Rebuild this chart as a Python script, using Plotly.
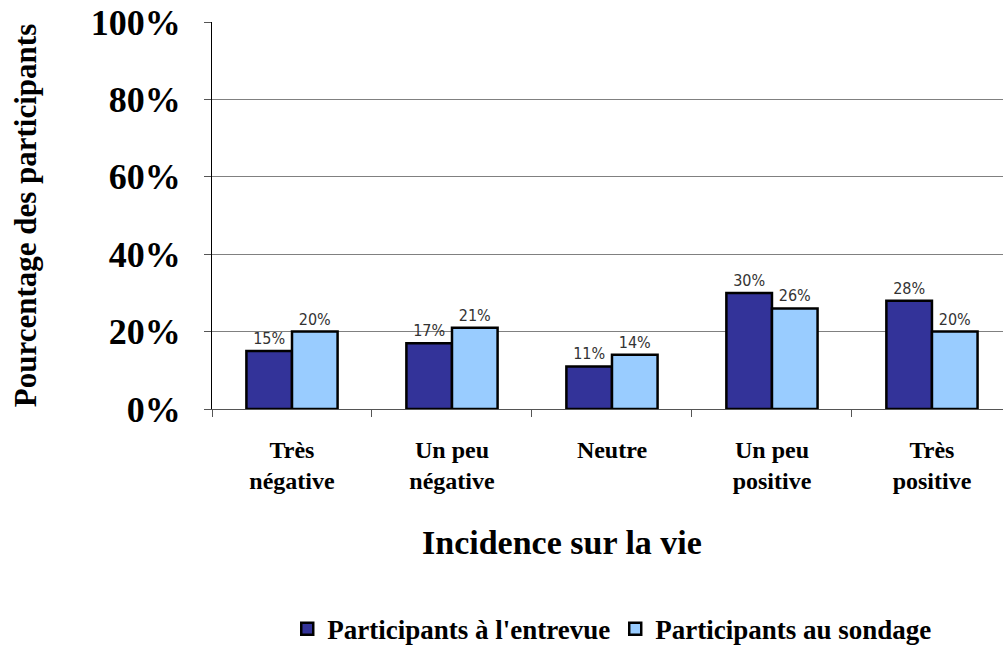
import plotly.graph_objects as go

categories = ["Très<br>négative", "Un peu<br>négative", "Neutre", "Un peu<br>positive", "Très<br>positive"]
entrevue = [0.15, 0.17, 0.11, 0.30, 0.28]
sondage = [0.20, 0.21, 0.14, 0.26, 0.20]
series_names = ["Participants à l'entrevue", "Participants au sondage"]
colors = ["#333399", "#99CCFF"]
x_title = "Incidence sur la vie"
y_title = "Pourcentage des participants"

serif = "Liberation Serif"
fig = go.Figure()
for name, vals, col in zip(series_names, [entrevue, sondage], colors):
    fig.add_trace(go.Bar(
        x=categories, y=vals, name=name,
        marker=dict(color=col, line=dict(color="black", width=2.5)),
        text=[f"{v:.0%}" for v in vals], textposition="outside",
        textfont=dict(family="DejaVu Sans Condensed, Liberation Sans", size=16, color="#333"),
        cliponaxis=False,
    ))

fig.update_layout(
    width=1003, height=649,
    margin=dict(l=212, r=0, t=22, b=240, autoexpand=False),
    plot_bgcolor="white", paper_bgcolor="white",
    barmode="group", bargap=0.43, bargroupgap=0,
    showlegend=True,
    legend=dict(orientation="h", x=0.506, xanchor="center", y=-0.632, yanchor="bottom",
                font=dict(family=serif, size=27, color="black", weight="bold"), itemwidth=30,
                traceorder="normal", tracegroupgap=0),
    font=dict(family=serif, color="black"),
    annotations=[dict(text=f"<b>{x_title}</b>", xref="paper", yref="paper",
                      x=0.4425, y=(409 - 542) / 387, xanchor="center", yanchor="middle",
                      showarrow=False, font=dict(family=serif, size=34, color="black"))],
)
fig.update_yaxes(
    range=[0, 1], tickvals=[0, 0.2, 0.4, 0.6, 0.8, 1.0], tickformat=".0%",
    showgrid=True, gridcolor="#808080", gridwidth=1,
    showline=True, linecolor="black", linewidth=1,
    ticks="outside", ticklen=7, tickcolor="#555",
    ticklabelstandoff=16,
    tickfont=dict(family=serif, size=36, color="black", weight="bold"),
    title=dict(text=f"<b>{y_title}</b>", font=dict(family=serif, size=31, color="black"), standoff=44),
    zeroline=False,
)
fig.update_xaxes(
    range=[-0.5, 4.444],
    showline=True, linecolor="#555", linewidth=1,
    ticks="outside", ticklen=7, tickcolor="#555", tickson="boundaries",
    ticklabelstandoff=19,
    tickfont=dict(family=serif, size=24, color="black", weight="bold"),
)
fig.write_html("out.html", config={"displayModeBar": False},
               post_script="document.body.style.margin='0';")
